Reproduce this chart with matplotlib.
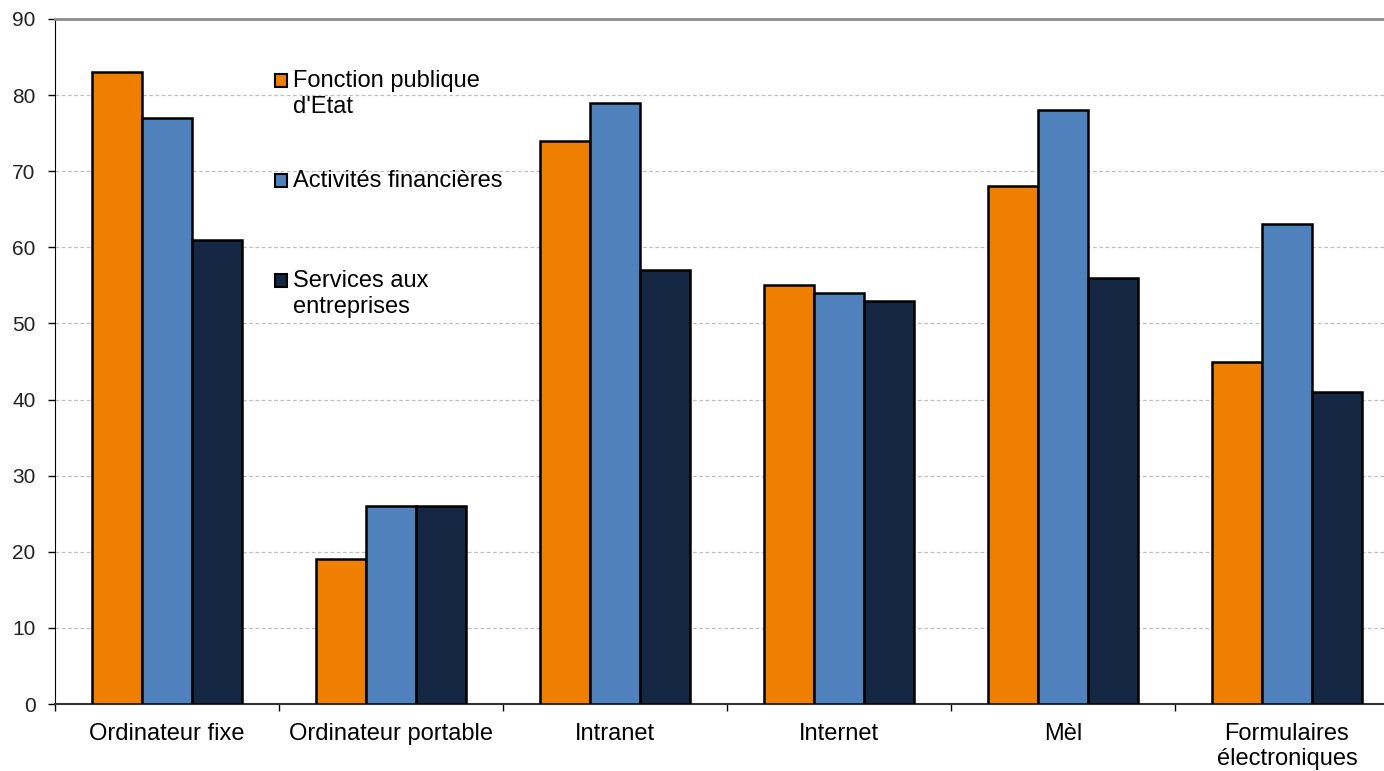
import numpy as np
import matplotlib
matplotlib.use("Agg")
from matplotlib import pyplot as plt
from matplotlib.patches import Rectangle

plt.rcParams['font.family'] = ['Liberation Sans', 'DejaVu Sans']

# data
categories = ["Ordinateur fixe", "Ordinateur portable", "Intranet", "Internet", "Mèl",
              "Formulaires\nélectroniques"]
series_names = ["Fonction publique\nd'Etat", "Activités financières", "Services aux\nentreprises"]
etat = [83, 19, 74, 55, 68, 45]
finance = [77, 26, 79, 54, 78, 63]
services = [61, 26, 57, 53, 56, 41]
colors = ["#EE7F00", "#4F81BD", "#132742"]

W, H = 1384, 771
fig = plt.figure(figsize=(W / 100, H / 100), dpi=100)
ax = fig.add_axes([55 / W, 1 - 704 / H, 1344 / W, 685 / H])

x = np.arange(len(categories))
bw = 0.67 / 3
for i, vals in enumerate([etat, finance, services]):
    ax.bar(x + (i - 1) * bw, vals, width=bw, color=colors[i], edgecolor="black",
           linewidth=1.8, zorder=3)

ax.set_xlim(-0.5, len(categories) - 0.5)
ax.set_ylim(0, 90)
ax.set_yticks(np.arange(0, 91, 10))
ax.yaxis.grid(True, color="#c0c0c0", linestyle=(0, (3, 2)), linewidth=0.9, zorder=0)
ax.tick_params(axis="y", labelsize=15, length=5, width=1, colors="black", pad=9,
               labelcolor="#222222")

# category labels centred, ticks on the boundaries
ax.set_xticks(x)
ax.set_xticklabels(categories, fontsize=17, linespacing=1.15)
ax.tick_params(axis="x", which="major", length=0, pad=14)
ax.set_xticks(np.arange(-0.5, len(categories), 1), minor=True)
ax.tick_params(axis="x", which="minor", length=5, width=1, direction="out")

ax.spines["left"].set_color("black")
ax.spines["bottom"].set_color("#333333")
ax.spines["bottom"].set_linewidth(1.5)
ax.spines["top"].set_color("#8c8c8c")
ax.spines["top"].set_linewidth(2)
ax.spines["right"].set_visible(False)

# legend, drawn by hand so the marker sits on the first line of text
leg_base = [87, 187, 287]
for name, c, yb in zip(series_names, colors, leg_base):
    fig.patches.append(Rectangle((275 / W, 1 - yb / H), 12 / W, 13 / H,
                                 transform=fig.transFigure, facecolor=c,
                                 edgecolor="black", linewidth=1.5, zorder=5))
    first, _, rest = name.partition("\n")
    fig.text(293 / W, 1 - yb / H, first, fontsize=17, va="baseline", ha="left")
    if rest:
        fig.text(293 / W, 1 - (yb + 26) / H, rest, fontsize=17, va="baseline", ha="left")

fig.savefig("out.png", dpi=100)
